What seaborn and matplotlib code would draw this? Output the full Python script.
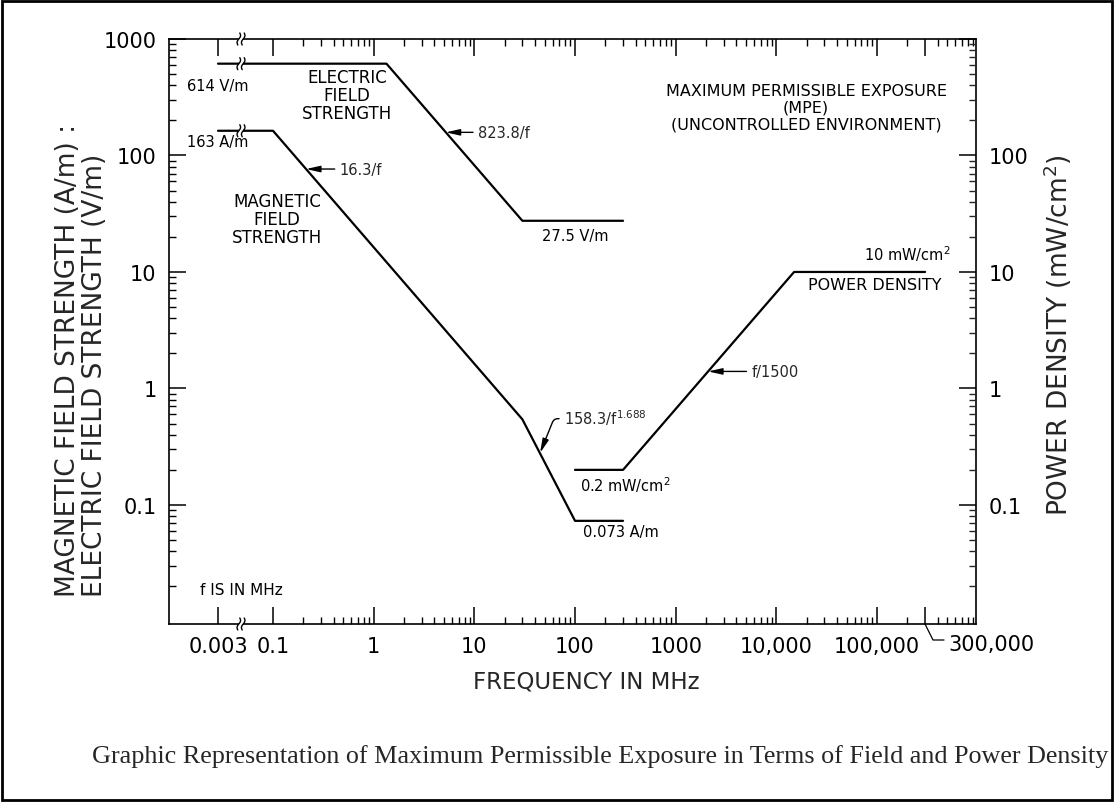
import numpy as np
import pandas as pd
import matplotlib
matplotlib.use("Agg")
import matplotlib.pyplot as plt
import matplotlib.transforms as mtransforms
from matplotlib.patches import Rectangle
from matplotlib.lines import Line2D
from matplotlib.ticker import FixedLocator, NullFormatter
import seaborn as sns

# ---------------- data ----------------
e_freq = [0.003, 1.34, 30, 300]          # MHz
e_val = [614, 614, 27.5, 27.5]           # V/m
h_freq = [0.003, 0.1, 30, 100, 300]      # MHz
h_val = [163, 163, 0.543, 0.073, 0.073]  # A/m
pd_freq = [100, 300, 15000, 300000]      # MHz
pd_val = [0.2, 0.2, 10, 10]              # mW/cm^2

x_ticks = [0.003, 0.1, 1, 10, 100, 1000, 10000, 100000, 300000]
x_tick_labels = ["0.003", "0.1", "1", "10", "100", "1000", "10,000", "100,000", ""]
y_ticks = [0.1, 1, 10, 100, 1000]
y_tick_labels = ["0.1", "1", "10", "100", "1000"]
y2_tick_labels = ["0.1", "1", "10", "100", ""]

caption = ("Graphic Representation of Maximum Permissible Exposure in Terms of "
           "Field and Power Density")

# ---------------- style ----------------
sns.set_style("white")
plt.rcParams["font.family"] = ["DejaVu Sans"]
plt.rcParams["mathtext.fontset"] = "dejavusans"

W, H = 1114, 803
AX_L, AX_R, AX_T, AX_B = 169, 976, 40, 625

fig = plt.figure(figsize=(W / 100, H / 100), dpi=100)
ax = fig.add_axes([AX_L / W, 1 - AX_B / H, (AX_R - AX_L) / W, (AX_B - AX_T) / H])


def afrac(x, y):
    return ((x - AX_L) / (AX_R - AX_L), (AX_B - y) / (AX_B - AX_T))


# ---------------- broken log x scale ----------------
K = 0.3586  # compression of the region left of 0.1 MHz (axis break)


def fwd(f):
    f = np.asarray(f, dtype=float)
    lf = np.log10(np.clip(f, 1e-12, None))
    return np.where(lf >= -1, lf, -1 + (lf + 1) * K)


def inv(t):
    t = np.asarray(t, dtype=float)
    with np.errstate(over="ignore"):
        return np.where(t >= -1, 10.0 ** np.clip(t, -20, 20),
                        10.0 ** np.clip(-1 + (t + 1) / K, -20, 20))


df = pd.concat([
    pd.DataFrame({"freq": e_freq, "value": e_val, "series": "E"}),
    pd.DataFrame({"freq": h_freq, "value": h_val, "series": "H"}),
    pd.DataFrame({"freq": pd_freq, "value": pd_val, "series": "S"}),
], ignore_index=True)

sns.lineplot(data=df, x="freq", y="value", units="series", estimator=None,
             color="black", linewidth=1.6, sort=False, ax=ax, legend=False)

ax.set_xscale("function", functions=(fwd, inv))
ax.set_yscale("log")
ax.set_xlim(float(inv(-2.033)), 10 ** 5.983)
ax.set_ylim(0.0095, 1000)
ax.set_xlabel("")
ax.set_ylabel("")

x_minor = [m * 10.0 ** k for k in range(-1, 6) for m in range(2, 10)
           if not (k == 5 and m == 3)]
y_minor = [m * 10.0 ** k for k in range(-2, 3) for m in range(2, 10)]

ax.xaxis.set_major_locator(FixedLocator(x_ticks))
ax.set_xticklabels(x_tick_labels)
ax.xaxis.set_minor_locator(FixedLocator(x_minor))
ax.xaxis.set_minor_formatter(NullFormatter())
ax.yaxis.set_major_locator(FixedLocator(y_ticks))
ax.set_yticklabels(y_tick_labels)
ax.yaxis.set_minor_locator(FixedLocator(y_minor))
ax.yaxis.set_minor_formatter(NullFormatter())

for s in ax.spines.values():
    s.set_color("black")
    s.set_linewidth(1.2)

ax.tick_params(axis="both", which="major", direction="in", length=12, width=1.1,
               labelsize=15, pad=9, colors="black")
ax.tick_params(axis="both", which="minor", direction="in", length=5, width=1.0,
               colors="black")
ax.tick_params(axis="x", which="both", top=True, bottom=True)
ax.tick_params(axis="y", which="both", left=True, right=False)

ax2 = ax.twinx()
ax2.set_yscale("log")
ax2.set_ylim(ax.get_ylim())
ax2.yaxis.set_major_locator(FixedLocator(y_ticks))
ax2.set_yticklabels(y2_tick_labels)
ax2.yaxis.set_minor_locator(FixedLocator(y_minor))
ax2.yaxis.set_minor_formatter(NullFormatter())
ax2.tick_params(axis="y", which="major", direction="in", length=12, width=1.1,
                labelsize=15, pad=9, colors="black")
ax2.tick_params(axis="y", which="minor", direction="in", length=5, width=1.0)
for s in ax2.spines.values():
    s.set_visible(False)

# ---------------- axis breaks ----------------
BREAK_F = 0.013


def draw_break(x, y, base):
    tr = fig.dpi_scale_trans + mtransforms.ScaledTranslation(x, y, base)
    ax.add_patch(Rectangle((-0.022, -0.03), 0.044, 0.06, transform=tr,
                           facecolor="white", edgecolor="none", clip_on=False,
                           zorder=6))
    t = np.linspace(-1, 1, 40)
    for dx in (-0.022, 0.022):
        ax.add_line(Line2D(dx + 0.012 * np.sin(np.pi * t) + 0.01 * t, 0.06 * t,
                           transform=tr, color="black", lw=1.0,
                           clip_on=False, zorder=7))


draw_break(BREAK_F, 1.0, ax.get_xaxis_transform())
draw_break(BREAK_F, 0.0, ax.get_xaxis_transform())
draw_break(BREAK_F, e_val[0], ax.transData)
draw_break(BREAK_F, h_val[0], ax.transData)

# ---------------- annotations ----------------
FS = 11


def label(text, x, y, ha="left", fs=FS, **kw):
    ax.text(*afrac(x, y), text, transform=ax.transAxes, ha=ha, va="center",
            fontsize=fs, color="black", **kw)


label("614 V/m", 187, 86, fs=10.5)
label("163 A/m", 187, 143, fs=10.5)
label("ELECTRIC\nFIELD\nSTRENGTH", 347, 96, ha="center", fs=12,
      linespacing=1.0, multialignment="center")
label("MAGNETIC\nFIELD\nSTRENGTH", 277, 220, ha="center", fs=12,
      linespacing=1.0, multialignment="center")
label("MAXIMUM PERMISSIBLE EXPOSURE\n(MPE)\n(UNCONTROLLED ENVIRONMENT)", 806, 108,
      ha="center", fs=11.5, linespacing=1.15, multialignment="center")
label("27.5 V/m", 575, 237, ha="center", fs=10.5)
label("10 mW/cm$^2$", 951, 254, ha="right", fs=10.5)
label("POWER DENSITY", 941, 285, ha="right", fs=11.5)
label("0.2 mW/cm$^2$", 580, 485, fs=10.5)
label("0.073 A/m", 583, 532, fs=10.5)
label("f IS IN MHz", 200, 591, fs=11)

arrow = dict(arrowstyle="-|>,head_length=0.8,head_width=0.18", color="black",
             lw=1.0, shrinkA=1, shrinkB=0, relpos=(0, 0.5))

ax.annotate("823.8/f", xy=(5.2, 158), xytext=(23, 0), textcoords="offset points",
            ha="left", va="center", fontsize=10.5, arrowprops=arrow)
ax.annotate("16.3/f", xy=(0.213, 76.5), xytext=(24, 0), textcoords="offset points",
            ha="left", va="center", fontsize=10.5, arrowprops=arrow)
ax.annotate("f/1500", xy=(2100, 1.4), xytext=(31, 0), textcoords="offset points",
            ha="left", va="center", fontsize=10.5, arrowprops=arrow)
ax.annotate("158.3/f$^{1.688}$", xy=(45, 0.28), xytext=(17, 26),
            textcoords="offset points", ha="left", va="center", fontsize=10.5,
            arrowprops=dict(arrowstyle="-|>,head_length=0.8,head_width=0.18",
                            color="black", lw=1.0, shrinkA=1, shrinkB=0,
                            relpos=(0, 0.4),
                            connectionstyle="angle,angleA=0,angleB=68,rad=4"))

# 300,000 label with leader
ax.add_line(Line2D([afrac(925, 625)[0], afrac(933, 641)[0], afrac(944, 641)[0]],
                   [afrac(925, 625)[1], afrac(933, 641)[1], afrac(944, 641)[1]],
                   transform=ax.transAxes, color="black", lw=0.9, clip_on=False))
label("300,000", 948, 645, fs=15)

# ---------------- axis titles ----------------
fig.text(68 / W, 1 - 597 / H, "MAGNETIC FIELD STRENGTH (A/m) :", rotation=90,
         ha="center", va="bottom", fontsize=19)
fig.text(95 / W, 1 - 597 / H, "ELECTRIC FIELD STRENGTH (V/m)", rotation=90,
         ha="center", va="bottom", fontsize=19)
fig.text(1058 / W, 1 - 335 / H, "POWER DENSITY (mW/cm$^2$)", rotation=90,
         ha="center", va="center", fontsize=19)
fig.text(586 / W, 1 - 682 / H, "FREQUENCY IN MHz", ha="center", va="center",
         fontsize=16.5)

fig.text(92 / W, 1 - 757 / H, caption, ha="left", va="center", fontsize=18.8,
         family="Liberation Serif")

fig.add_artist(Rectangle((0.0015, 0.002), 0.997, 0.996, transform=fig.transFigure,
                         fill=False, edgecolor="black", lw=2.0))

fig.savefig("out.png", dpi=100)
